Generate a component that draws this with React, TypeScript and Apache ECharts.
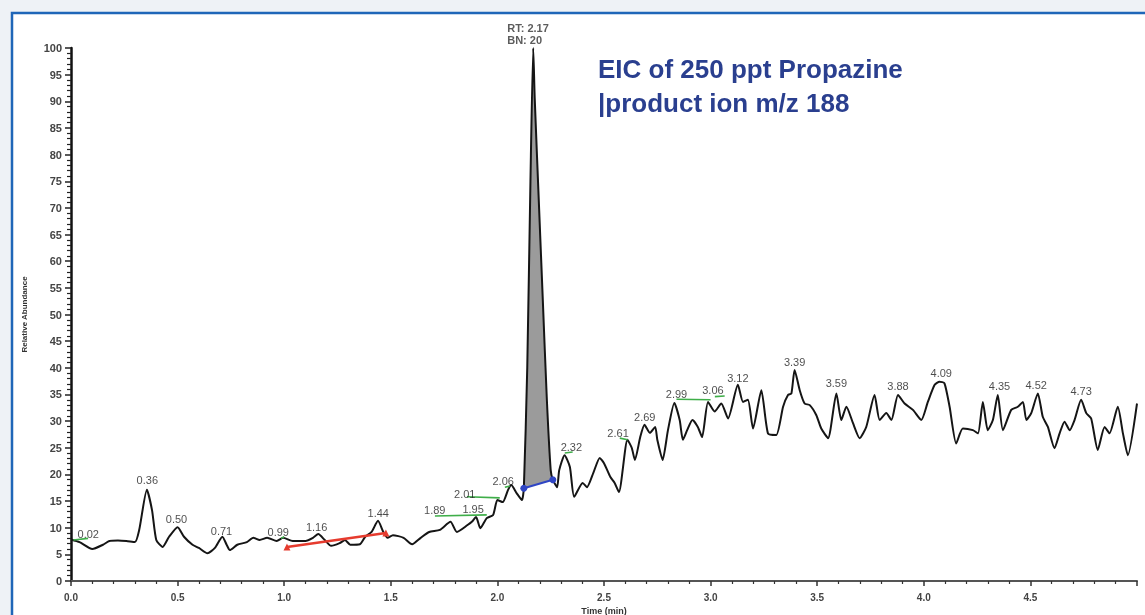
import React, { useEffect, useRef } from "react";
import * as echarts from "echarts";

// Chromatogram trace (time in min, relative abundance in %)
const times = [
  0.0, 0.04, 0.1, 0.15, 0.18, 0.22, 0.26, 0.3, 0.32, 0.356, 0.38, 0.4, 0.43, 0.46, 0.5, 0.53, 0.57, 0.6,
  0.64, 0.675, 0.71, 0.73, 0.745, 0.78, 0.825, 0.855, 0.885, 0.92, 0.965, 0.995, 1.04, 1.1, 1.135, 1.16,
  1.19, 1.22, 1.26, 1.285, 1.31, 1.355, 1.38, 1.41, 1.44, 1.465, 1.485, 1.51, 1.56, 1.6, 1.64, 1.68, 1.73,
  1.78, 1.81, 1.86, 1.88, 1.9, 1.92, 1.95, 1.98, 2.0, 2.025, 2.05, 2.065, 2.09, 2.115, 2.124, 2.14, 2.155,
  2.168, 2.175, 2.194, 2.213, 2.232, 2.25, 2.26, 2.28, 2.29, 2.315, 2.34, 2.36, 2.4, 2.42, 2.45, 2.48, 2.5,
  2.53, 2.55, 2.57, 2.61, 2.63, 2.645, 2.67, 2.69, 2.715, 2.74, 2.75, 2.775, 2.8, 2.83, 2.855, 2.87, 2.89,
  2.915, 2.94, 2.96, 2.988, 3.019, 3.05, 3.082, 3.128, 3.152, 3.175, 3.199, 3.238, 3.269, 3.308, 3.34,
  3.363, 3.379, 3.394, 3.418, 3.441, 3.465, 3.496, 3.519, 3.551, 3.59, 3.613, 3.637, 3.668, 3.699, 3.73,
  3.769, 3.793, 3.824, 3.848, 3.879, 3.91, 3.949, 3.988, 4.019, 4.051, 4.074, 4.097, 4.121, 4.152, 4.183,
  4.23, 4.254, 4.277, 4.3, 4.324, 4.347, 4.371, 4.41, 4.441, 4.465, 4.481, 4.504, 4.535, 4.558, 4.582,
  4.613, 4.637, 4.66, 4.684, 4.707, 4.738, 4.762, 4.785, 4.816, 4.848, 4.871, 4.91, 4.934, 4.957, 5.0,
];
const abundance = [
  7.8, 7.3, 6.0, 6.8, 7.5, 7.6, 7.5, 7.3, 9.6, 17.1, 13.3, 7.7, 6.4, 8.3, 10.1, 8.3, 6.8, 6.2,
  5.2, 6.2, 8.3, 6.8, 5.8, 6.8, 7.3, 8.1, 7.7, 8.1, 7.5, 8.1, 7.5, 7.5, 8.1, 8.8,
  7.7, 6.6, 7.1, 7.7, 6.8, 6.9, 8.3, 9.2, 11.3, 9.2, 8.1, 8.6, 8.1, 6.9, 8.1, 9.2, 9.6,
  11.1, 9.2, 10.5, 11.1, 12.0, 9.9, 11.8, 12.4, 15.2, 14.8, 17.1, 18.0, 16.5, 15.2, 17.4, 40, 75,
  100, 90.6, 71.5, 52.7, 34, 20.8, 19.0, 17.6, 20.8, 23.6, 21.4, 15.8, 18.4, 17.6, 20.3, 23.1, 22.1,
  19.5, 18.4, 16.7, 26.5, 25.0, 22.7, 27.0, 29.3, 27.8, 28.9, 26.5, 22.7, 28.3, 33.4, 30.2, 26.5, 28.3,
  30.2, 28.9, 27.0, 33.6, 31.8, 33.3, 30.5, 36.8, 33.6, 34.0, 28.6, 35.8, 27.7, 27.4, 32.7,
  34.9, 35.2, 39.6, 35.8, 33.3, 33.0, 31.1, 28.6, 26.8, 35.2, 30.2, 32.7, 29.6, 26.8, 28.9,
  34.9, 30.2, 31.5, 30.2, 34.9, 33.3, 32.1, 30.2, 33.6, 36.8, 37.4, 37.1, 32.7, 25.8, 28.6,
  28.3, 27.7, 33.6, 28.3, 30.2, 34.9, 28.3, 32.1, 32.7, 33.6, 30.2, 31.5, 35.2, 30.8, 28.9,
  24.9, 27.7, 29.9, 28.3, 30.2, 34.0, 31.5, 30.5, 24.6, 28.9, 27.7, 32.7, 27.7, 23.6, 33.3,
];

// Integrated peak window (RT 2.17)
const peakStart = 2.124;
const peakEnd = 2.26;

// Peak annotations
const peakLabels = ["0.02", "0.36", "0.50", "0.71", "0.99", "1.16", "1.44", "1.89", "1.95", "2.01", "2.06",
  "2.32", "2.61", "2.69", "2.99", "3.06", "3.12", "3.39", "3.59", "3.88", "4.09", "4.35", "4.52", "4.73"];
const peakLabelTimes = [0.081, 0.358, 0.495, 0.706, 0.972, 1.152, 1.441, 1.706, 1.886, 1.847, 2.027,
  2.347, 2.566, 2.691, 2.84, 3.011, 3.128, 3.394, 3.59, 3.879, 4.082, 4.355, 4.527, 4.738];
const peakLabelHeights = [8.9, 18.9, 11.6, 9.4, 9.2, 10.2, 12.8, 13.4, 13.6, 16.4, 18.8,
  25.1, 27.7, 30.8, 35.1, 35.8, 38.0, 41.1, 37.1, 36.5, 39.0, 36.5, 36.8, 35.7];
const mainPeak = { label: "RT: 2.17\nBN: 20", time: 2.168, height: 100 };

// Integration baselines
const greenBaselines = [
  [[0.011, 7.7], [0.08, 8.0]],
  [[0.985, 8.0], [1.0, 8.3]],
  [[1.707, 12.2], [1.95, 12.4]],
  [[1.857, 15.8], [2.011, 15.6]],
  [[2.035, 17.6], [2.058, 17.8]],
  [[2.316, 24.0], [2.353, 24.2]],
  [[2.574, 26.8], [2.611, 26.5]],
  [[2.84, 34.1], [3.0, 34.0]],
  [[3.02, 34.6], [3.066, 34.7]],
];
const redBaseline = [[1.013, 6.4], [1.477, 9.0]];
const blueBaseline = [[2.124, 17.4], [2.26, 19.0]];

const FONT = "'Liberation Sans', Arial, sans-serif";

export default function App() {
  const ref = useRef<HTMLDivElement>(null);
  useEffect(() => {
    if (!ref.current) return;
    const chart = echarts.init(ref.current, null, { renderer: "svg" });
    const trace = times.map((t, i) => [t, abundance[i]]);
    const peakPts = trace.filter((p) => p[0] >= peakStart && p[0] <= peakEnd);

    const series: any[] = [
      {
        type: "custom",
        name: "peakArea",
        data: [[2.17, 50]],
        silent: true,
        z: 1,
        renderItem: (_p: any, api: any) => ({
          type: "polygon",
          shape: { points: peakPts.map((p) => api.coord(p)) },
          style: { fill: "#9b9b9b", stroke: "none" },
        }),
      },
      {
        type: "line",
        name: "EIC",
        data: trace,
        showSymbol: false,
        smooth: 0.2,
        lineStyle: { color: "#151515", width: 2 },
        z: 3,
      },
      ...greenBaselines.map((seg) => ({
        type: "line",
        data: seg,
        showSymbol: false,
        lineStyle: { color: "#3fae49", width: 1.6 },
        z: 4,
      })),
      {
        type: "line",
        data: redBaseline,
        symbol: "triangle",
        symbolSize: 7,
        itemStyle: { color: "#e63b2e" },
        lineStyle: { color: "#e63b2e", width: 2.5 },
        z: 4,
      },
      {
        type: "line",
        data: blueBaseline,
        symbol: "circle",
        symbolSize: 7,
        itemStyle: { color: "#2f45c4" },
        lineStyle: { color: "#2f45c4", width: 2 },
        z: 5,
      },
      {
        type: "scatter",
        data: peakLabels.map((l, i) => ({ name: l, value: [peakLabelTimes[i], peakLabelHeights[i]] })),
        symbolSize: 1,
        itemStyle: { color: "transparent" },
        silent: true,
        z: 6,
        label: {
          show: true,
          position: "inside",
          formatter: "{b}",
          fontSize: 11,
          fontFamily: FONT,
          color: "#1e1e1e",
        },
      },
      {
        type: "scatter",
        data: [{ name: mainPeak.label, value: [mainPeak.time, mainPeak.height] }],
        symbolSize: 1,
        itemStyle: { color: "transparent" },
        silent: true,
        z: 6,
        label: {
          show: true,
          position: "top",
          distance: 2,
          align: "left",
          offset: [-26, 0],
          lineHeight: 12,
          formatter: "{b}",
          fontSize: 11,
          fontWeight: "bold",
          fontFamily: FONT,
          color: "#333",
        },
      },
    ];

    chart.setOption({
      animation: false,
      backgroundColor: "transparent",
      graphic: [
        { type: "rect", z: -10, silent: true, shape: { x: 0, y: 0, width: 1145, height: 615 }, style: { fill: "#eef2f6" } },
        {
          type: "rect", z: -9, silent: true,
          shape: { x: 12, y: 13, width: 1150, height: 620 },
          style: { fill: "#ffffff", stroke: "#1f66b8", lineWidth: 2.5 },
        },
        {
          type: "text", z: 20, left: 598, top: 52,
          style: {
            text: "EIC of 250 ppt Propazine\n|product ion m/z 188",
            font: `bold 26px ${FONT}`,
            fill: "#2a3f8f",
            lineHeight: 34,
          },
        },
      ],
      grid: { left: 71, right: 8, top: 48, bottom: 34, containLabel: false, outerBoundsMode: "none" },
      xAxis: {
        type: "value",
        min: 0,
        max: 5,
        interval: 0.5,
        name: "Time (min)",
        nameLocation: "middle",
        nameGap: 24,
        nameTextStyle: { fontSize: 9, fontWeight: "bold", color: "#333", fontFamily: FONT },
        axisLine: { show: true, lineStyle: { color: "#555", width: 2 } },
        axisTick: { show: true, length: 5, lineStyle: { color: "#333", width: 1.5 } },
        minorTick: { show: true, splitNumber: 5, length: 3, lineStyle: { color: "#333", width: 1.2 } },
        splitLine: { show: false },
        axisLabel: {
          showMaxLabel: false,
          margin: 11,
          fontSize: 10,
          fontWeight: "bold",
          color: "#444",
          fontFamily: FONT,
          formatter: (v: number) => v.toFixed(1),
        },
      },
      yAxis: {
        type: "value",
        min: 0,
        max: 100,
        interval: 5,
        name: "Relative Abundance",
        nameLocation: "middle",
        nameGap: 43,
        nameTextStyle: { fontSize: 8, fontWeight: "bold", color: "#333", fontFamily: FONT },
        axisLine: { show: true, lineStyle: { color: "#111", width: 2.5 } },
        axisTick: { show: true, length: 6, lineStyle: { color: "#222", width: 1.5 } },
        minorTick: { show: true, splitNumber: 5, length: 4, lineStyle: { color: "#222", width: 1.2 } },
        splitLine: { show: false },
        axisLabel: {
          margin: 9,
          fontSize: 11,
          fontWeight: "bold",
          color: "#444",
          fontFamily: FONT,
        },
      },
      series,
    });
    return () => chart.dispose();
  }, []);
  return <div ref={ref} style={{ position: "fixed", left: 0, top: 0, width: 1145, height: 615 }} />;
}
